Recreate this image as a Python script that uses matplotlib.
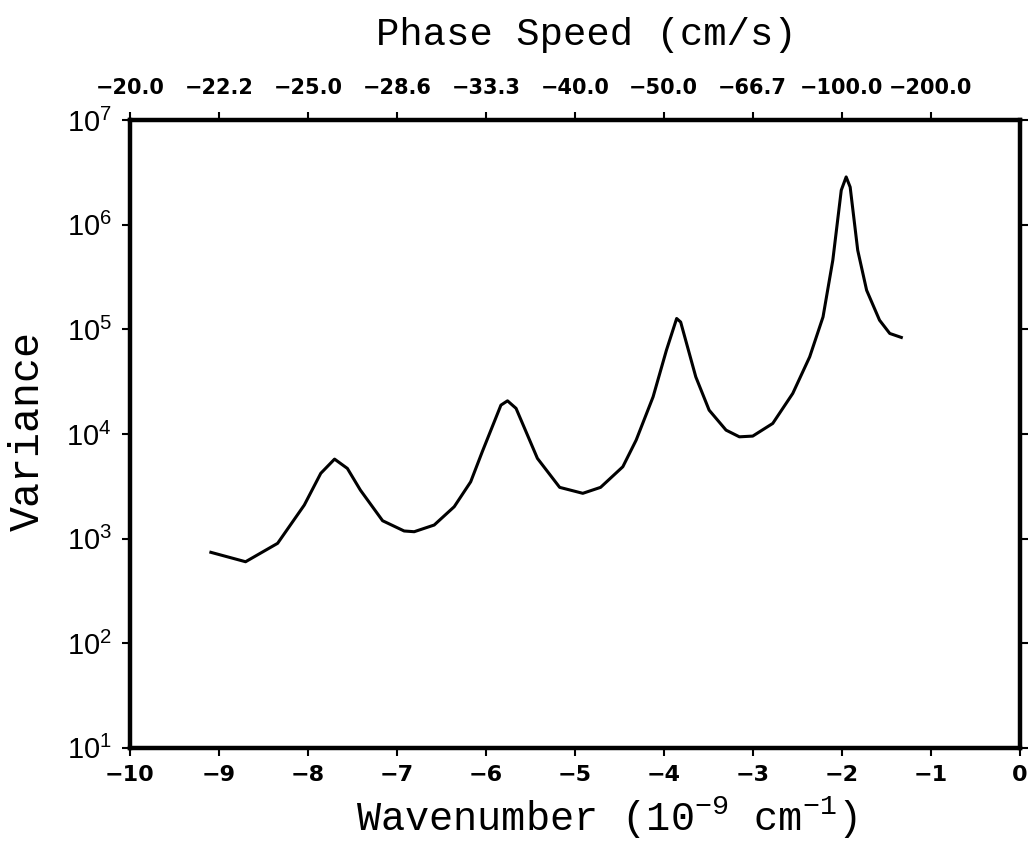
import matplotlib
matplotlib.use("Agg")
import matplotlib.pyplot as plt
import numpy as np

k = [-9.09, -8.70, -8.34, -8.04, -7.855, -7.70, -7.556, -7.41, -7.16, -6.918,
     -6.805, -6.58, -6.355, -6.17, -6.04, -5.83, -5.756, -5.66, -5.42, -5.17,
     -4.91, -4.71, -4.46, -4.31, -4.12, -3.97, -3.855, -3.81, -3.64, -3.49,
     -3.30, -3.15, -3.00, -2.775, -2.55, -2.36, -2.21, -2.10, -2.005, -1.95,
     -1.905, -1.82, -1.72, -1.575, -1.46, -1.33]
log_var = [2.869, 2.779, 2.955, 3.321, 3.624, 3.760, 3.671, 3.464, 3.171, 3.073,
           3.066, 3.130, 3.305, 3.543, 3.830, 4.276, 4.317, 4.245, 3.767, 3.490,
           3.433, 3.490, 3.687, 3.942, 4.355, 4.801, 5.104, 5.070, 4.546, 4.228,
           4.037, 3.973, 3.980, 4.101, 4.388, 4.737, 5.119, 5.661, 6.330, 6.457,
           6.360, 5.756, 5.374, 5.088, 4.961, 4.923]
variance = 10.0 ** np.array(log_var)

bottom_ticks = [-10, -9, -8, -7, -6, -5, -4, -3, -2, -1, 0]
top_ticks = [-10, -9, -8, -7, -6, -5, -4, -3, -2, -1]
top_labels = ["\u221220.0", "\u221222.2", "\u221225.0", "\u221228.6", "\u221233.3",
              "\u221240.0", "\u221250.0", "\u221266.7", "\u2212100.0", "\u2212200.0"]
y_exps = [1, 2, 3, 4, 5, 6, 7]

plt.rcParams["mathtext.fontset"] = "custom"
plt.rcParams["mathtext.rm"] = "Liberation Mono"
plt.rcParams["mathtext.sf"] = "Liberation Sans"
plt.rcParams["mathtext.it"] = "Liberation Mono"

fig = plt.figure(figsize=(10.31, 8.46), dpi=100)
ax = fig.add_axes([0.126, 0.116, 0.863, 0.742])

ax.plot(k, variance, color="black", lw=2.2)
ax.set_yscale("log")
ax.set_xlim(-10, 0)
ax.set_ylim(1e1, 1e7)

ax.set_xticks(bottom_ticks)
ax.set_xticklabels([str(t).replace("-", "\u2212") for t in bottom_ticks],
                   family="DejaVu Sans", weight="bold", size=16)
ax.set_yticks([10.0 ** e for e in y_exps])
ax.set_yticklabels([r"$\mathsf{10^{%d}}$" % e for e in y_exps], size=21)
ax.yaxis.set_minor_locator(matplotlib.ticker.NullLocator())
ax.tick_params(axis="x", direction="out", length=6, width=1.5, pad=6)
ax.tick_params(axis="y", direction="out", length=6, width=1.5, pad=7, right=True, labelright=False)

for s in ax.spines.values():
    s.set_linewidth(3.2)

ax.set_xlabel(r"Wavenumber (10$^{-9}$ cm$^{-1}$)", family="Liberation Mono", fontsize=29)
ax.xaxis.set_label_coords(0.535, -0.074)
ax.set_ylabel("Variance", family="Liberation Mono", fontsize=30)
ax.yaxis.set_label_coords(-0.092, 0.505)

top = ax.secondary_xaxis("top")
top.set_xticks(top_ticks)
top.set_xticklabels(top_labels, family="DejaVu Sans", weight="bold", size=15)
top.tick_params(direction="out", length=6, width=1.5, pad=10)
top.set_xlabel("Phase Speed (cm/s)", family="Liberation Mono", fontsize=28, labelpad=24)
top.xaxis.label.set_x(0.513)

fig.savefig("out.png", dpi=100)
